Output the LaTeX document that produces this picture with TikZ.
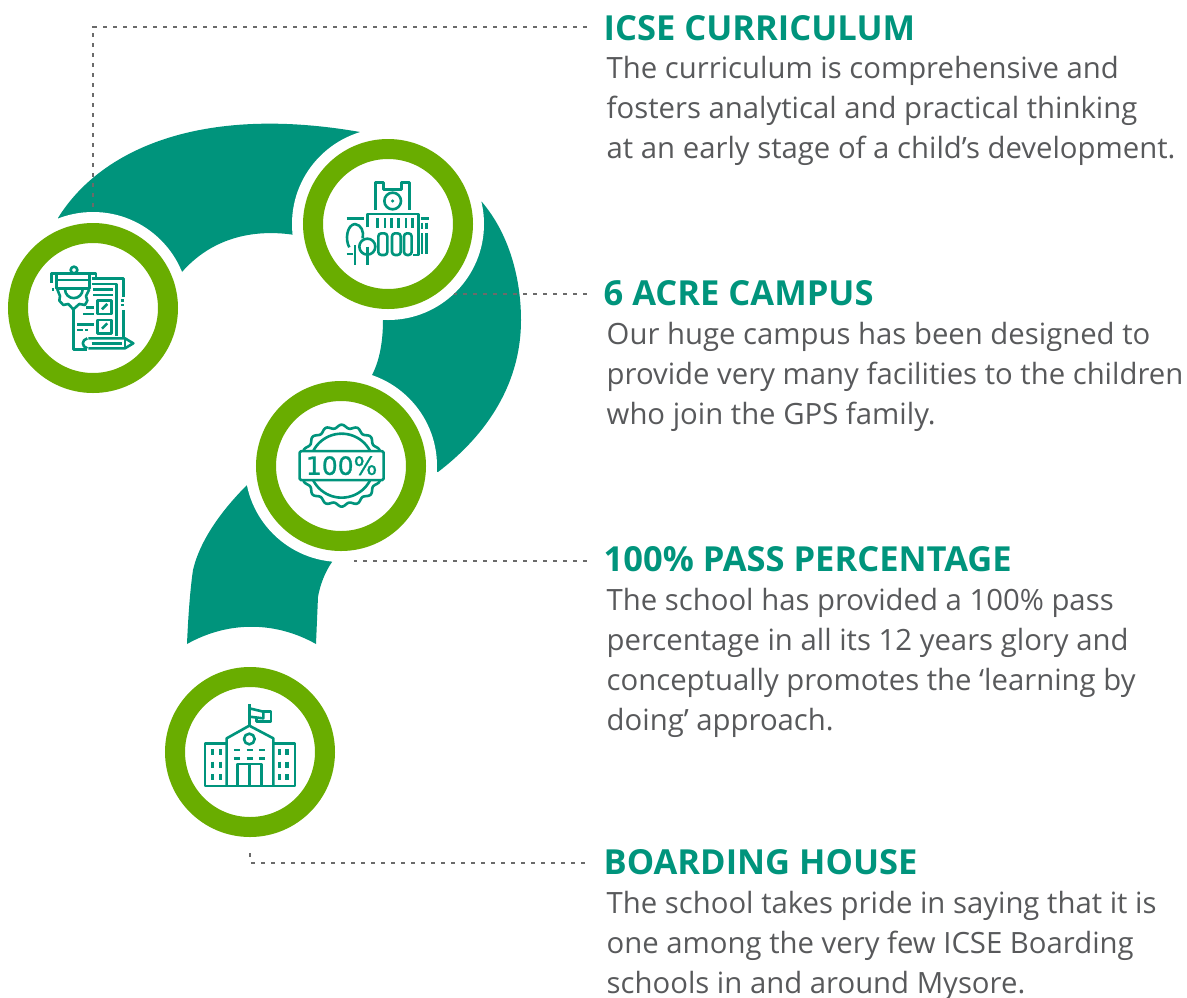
\documentclass[tikz,border=0pt]{standalone}
\usepackage{fontspec}
\setmainfont{Open Sans}
\newfontfamily\iconfont[FakeBold=1]{DejaVu Sans}
\definecolor{tealc}{HTML}{00947C}
\definecolor{greenc}{HTML}{69AD00}
\definecolor{textc}{HTML}{58595B}
\definecolor{dashc}{HTML}{6A6A6A}
\tikzset{
  halo/.style={circle,fill=white,inner sep=0pt,minimum size=192pt},
  ring/.style={circle,draw=greenc,line width=20pt,inner sep=0pt,minimum size=150pt},
  title/.style={anchor=base west,inner sep=0pt,text=tealc,font=\fontsize{34.5}{38}\selectfont\bfseries,text height=25pt,text depth=0pt},
  body/.style={anchor=north west,inner sep=0pt,text=textc,align=left,font=\fontsize{29.3}{40}\selectfont},
  dotline/.style={draw=dashc,line width=2pt,dash pattern=on 4pt off 6pt},
  zoomed/.style={x=0.3333pt,y=-0.3333pt,line width=2.6pt,draw=tealc,line join=round},
}
\begin{document}
\begin{tikzpicture}[x=1pt,y=-1pt]
\useasboundingbox (0,0) rectangle (1187,997);
% question-mark body
\fill[tealc] (58,218) .. controls (100,150) and (200,104) .. (360,132)
  -- (400,170) -- (482,202)
  .. controls (510,235) and (521,280) .. (521,320)
  .. controls (521,390) and (480,440) .. (438,472)
  -- (341,466) -- (247,485)
  .. controls (222,510) and (200,540) .. (193,570)
  .. controls (190,590) and (188,620) .. (187,644)
  .. controls (228,621) and (275,621) .. (316,644)
  -- (318,597)
  .. controls (320,585) and (325,572) .. (332,562)
  -- (341,466) -- (372,375)
  .. controls (380,360) and (383,340) .. (383,320)
  -- (388,224) -- (295,235)
  .. controls (250,228) and (210,240) .. (182,272)
  -- (93,308) -- cycle;
\node[halo] (halo1) at (93,308) {};
\node[halo] (halo2) at (388,224) {};
\node[halo] (halo3) at (341,466) {};
% texts
\node[title] (t1) at (603.5,40) {ICSE CURRICULUM};
\node[body] (b1) at (606.5,56) {The curriculum is comprehensive and\\fosters analytical and practical thinking\\at an early stage of a child’s development.};
\node[title] (t2) at (603.5,305) {6 ACRE CAMPUS};
\node[body] (b2) at (606.5,322) {Our huge campus has been designed to\\provide very many facilities to the children\\who join the GPS family.};
\node[title] (t3) at (603.5,571) {100\% PASS PERCENTAGE};
\node[body] (b3) at (606.5,588) {The school has provided a 100\% pass\\percentage in all its 12 years glory and\\conceptually promotes the ‘learning by\\doing’ approach.};
\node[title] (t4) at (603.5,874) {BOARDING HOUSE};
\node[body] (b4) at (606.5,891) {The school takes pride in saying that it is\\one among the very few ICSE Boarding\\schools in and around Mysore.};
% connectors
\coordinate (c4) at (250,852);
\draw[dotline,shorten <=17pt] ([yshift=1pt]t1.west) -| (halo1.north);
\draw[dotline,shorten <=17pt] ([yshift=-1pt]t2.west) -- ([yshift=-1pt]t2.west -| halo2.-47);
\draw[dotline,shorten <=17pt] ([yshift=-2pt]t3.west) -- ([yshift=-2pt]t3.west -| halo3.-82);
\draw[dotline,shorten <=19pt] ([yshift=-1pt]t4.west) -| (c4);
% rings
\node[ring] (r1) at (93,308) {};
\node[ring] (r2) at (388,224) {};
\node[ring] (r3) at (341,466) {};
\node[ring] (r4) at (250,752) {};
% icon 1
\begin{scope}[shift={(0,170)},zoomed]
\draw (155,338) -- (155,310) -- (288,310) -- (288,325);
\draw (222,300) circle (10);
\draw (155,358) -- (161,358);
\draw (170,330) -- (268,330);
\draw (170,312) -- (170,355) -- (268,355) -- (268,312);
\draw (195,358) arc (180:360:26.5 and -26.5);
\draw (172,358) -- (180,378) -- (178,392) -- (190,405) -- (205,402) -- (220,418) -- (238,402) -- (255,405) -- (262,392) -- (258,378) -- (268,358);
\draw (220,418) -- (220,538) -- (260,538);
\draw (275,325) -- (370,325) -- (370,380);
\draw (362,392) -- (372,392) (362,405) -- (372,405);
\draw (370,420) -- (370,500);
\draw (275,342) -- (350,342) -- (350,498);
\draw (280,358) -- (338,358) (280,375) -- (338,375);
\draw (293,392) rectangle (335,432);
\draw (293,450) rectangle (335,490);
\draw (306,418) -- (322,402) (306,476) -- (322,460);
\draw (258,413) -- (282,413) (250,432) -- (282,432) (232,463) -- (282,463);
\draw (232,480) -- (248,480) (255,480) -- (265,480);
\draw (265,505) -- (375,505) -- (400,520) -- (375,535) -- (265,535);
\draw (262,505) .. controls (244,510) and (244,530) .. (262,535);
\draw (275,520) -- (365,520);
\draw (375,505) -- (375,535);
\end{scope}
% icon 2
\begin{scope}[shift={(290,130)},zoomed]
\draw (257,240) -- (257,158) -- (280,158) -- (280,178) -- (335,178) -- (335,158) -- (358,158) -- (358,240);
\draw (308,213) circle (25);
\fill[tealc] (308,213) circle (5);
\draw (232,292) -- (232,252) -- (385,252) -- (385,375) -- (368,375);
\foreach \xa in {262,285,305,325,348,368} \draw (\xa,265) -- (\xa,293);
\draw (170,265) -- (222,265);
\draw (392,265) -- (418,265);
\foreach \xa in {396,410} {\draw (\xa,278) -- (\xa,298); \draw (\xa,310) -- (\xa,372);}
\draw[rounded corners=3pt] (265,375) -- (265,310) -- (292,310) -- (292,375) -- cycle;
\draw[rounded corners=3pt] (306,375) -- (306,310) -- (332,310) -- (332,375) -- cycle;
\draw[rounded corners=3pt] (342,375) -- (342,310) -- (365,310) -- (365,375) -- cycle;
\draw (195,405) -- (195,345);
\draw (178,352) .. controls (165,330) and (170,285) .. (195,282) .. controls (215,285) and (222,305) .. (218,325);
\draw (170,372) -- (188,372);
\draw (232,350) circle (24);
\draw (232,350) -- (232,405);
\end{scope}
% icon 3
\begin{scope}[shift={(250,375)},zoomed]
\draw plot[smooth,domain=0:360,samples=180] ({275+(118+5*cos(16*\x))*cos(\x)},{272+(118+5*cos(16*\x))*sin(\x)});
\draw (275,272) circle (96);
\node[draw=tealc,fill=white,line width=2.6pt,rounded corners=1.5pt,minimum width=84pt,minimum height=29pt,inner sep=0pt,text=tealc,font=\iconfont\fontsize{25}{26}\selectfont] (pct) at (275,272) {100\%};
\end{scope}
% icon 4
\begin{scope}[shift={(160,660)},zoomed]
\draw (268,197) -- (268,132);
\draw (268,145) -- (310,155) -- (310,175) -- (268,170);
\draw (310,155) -- (333,155) -- (333,185) -- (290,185) -- (290,173);
\draw (200,378) -- (200,235) -- (268,197) -- (340,235) -- (340,378);
\draw (268,237) circle (16);
\draw (200,250) -- (135,250) -- (135,378) -- (405,378) -- (405,250) -- (340,250);
\foreach \xa in {157,181,358,381} \foreach \ya in {268,305,343} \draw[line width=3.2pt] (\xa,\ya) -- (\xa,\ya+18);
\foreach \ya in {270,295} {\draw (222,\ya) -- (240,\ya) (260,\ya) -- (278,\ya) (298,\ya) -- (316,\ya);}
\draw (232,378) -- (232,312) -- (305,312) -- (305,378);
\draw (268,312) -- (268,378);
\end{scope}
\end{tikzpicture}
\end{document}
